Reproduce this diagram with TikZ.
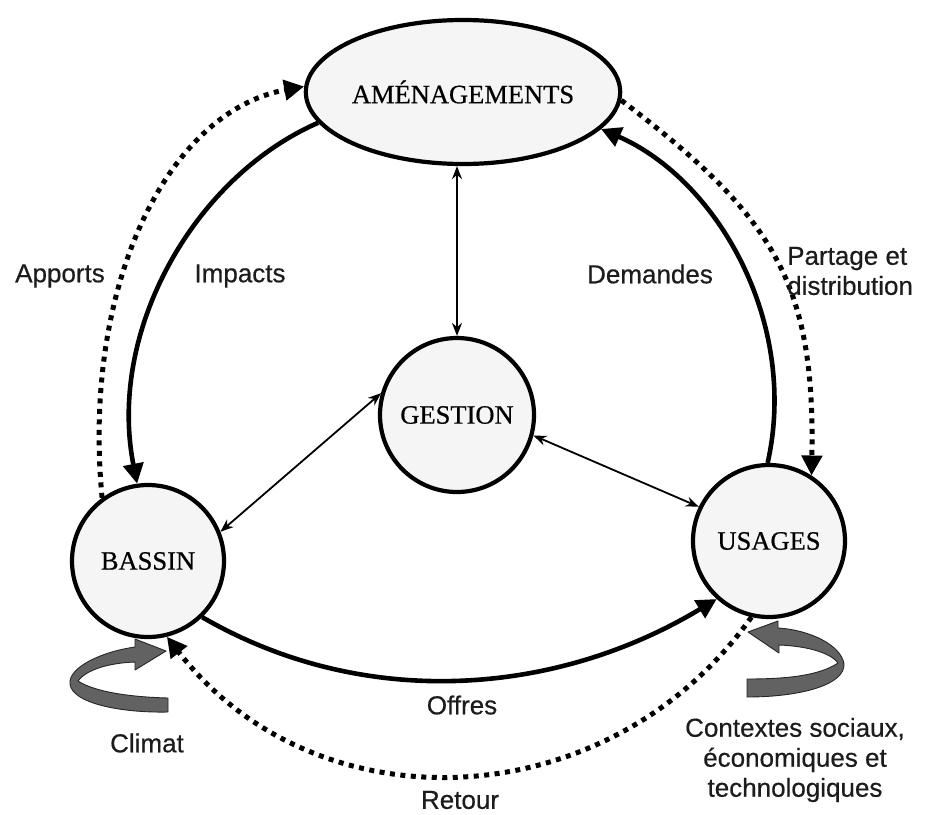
\documentclass[tikz,border=0pt]{standalone}
\usepackage{fontspec}
\setmainfont{Liberation Serif}[FakeBold=0.6]
\newfontfamily\labelfont{Liberation Sans}[FakeBold=0.5]
\usetikzlibrary{arrows.meta,shapes.geometric}
\definecolor{nodefill}{HTML}{F5F5F5}
\definecolor{ribbon}{HTML}{626262}
\definecolor{labelgray}{HTML}{1C1C1C}
\begin{document}
\begin{tikzpicture}[x=1pt,y=-1pt,
  mainnode/.style={draw=black, line width=4.2pt, fill=nodefill, inner sep=0pt,
    font=\fontsize{26.5}{30}\selectfont},
  roundnode/.style={mainnode, circle, minimum size=152pt},
  thickarc/.style={line width=4.6pt, -{Triangle[length=20pt,width=20pt]}},
  dotarc/.style={line width=5pt, dash pattern=on 5pt off 5.5pt, -{Triangle[length=20pt,width=20pt]}},
  thinarrow/.style={line width=1.8pt, {Stealth[length=13pt,width=10pt]}-{Stealth[length=13pt,width=10pt]}},
  lbl/.style={font=\labelfont\fontsize{26}{30}\selectfont, text=labelgray, inner sep=0pt},
  ribbonstyle/.style={fill=ribbon, draw=black!85, line width=0.9pt, line join=round}
]
\useasboundingbox (0,0) rectangle (936,814);

% main nodes
\node[mainnode, ellipse, minimum width=258pt, minimum height=144pt] (AM) at (463,92) {AMÉNAGEMENTS};
\node[roundnode, minimum size=154pt] (GE) at (457,415) {GESTION};
\node[roundnode] (BA) at (148,561) {BASSIN};
\node[roundnode] (US) at (769,541) {USAGES};

% thin double arrows
\draw[thinarrow] (GE.north) -- (GE.north |- AM.south);
\draw[thinarrow] (GE.164) -- (BA.22);
\draw[thinarrow] (GE.-15) -- (US.154);

% thick solid arcs
\draw[thickarc] (AM.192) .. controls (194,177) and (107,331) .. (BA.98);
\draw[thickarc] (US.91) .. controls (799,323) and (718,180) .. (AM.-15);
\draw[thickarc] (BA.-46) .. controls (364,711) and (556,696) .. (US.228);

% dotted arcs
\draw[dotarc] (BA.126) .. controls (82,290) and (165,112) .. (AM.178);
\draw[dotarc] (AM.-3) .. controls (775,217) and (815,283) .. (US.57);
\draw[dotarc] (US.257) .. controls (609,818) and (317,831) .. (BA.284);

% ribbons
\path[ribbonstyle] (168,698) -- (168,712)
  .. controls (120,713) and (72,703) .. (70,684)
  .. controls (68,668) and (100,652) .. (135,647)
  -- (135,639) -- (166,651) -- (135,670) -- (135,662)
  .. controls (108,663) and (86,670) .. (78,681)
  .. controls (95,692) and (130,697) .. (168,698) -- cycle;
\path[ribbonstyle] (747,679) -- (747,697)
  .. controls (800,697) and (845,685) .. (844,664)
  .. controls (841,645) and (810,630) .. (778,628)
  -- (778,621) -- (748,632) -- (779,653) -- (779,645)
  .. controls (805,646) and (830,652) .. (838,663)
  .. controls (820,675) and (790,679) .. (747,679) -- cycle;

% labels
\node[lbl] (apports) at (60,276) {Apports};
\node[lbl] (impacts) at (240,276) {Impacts};
\node[lbl] (demandes) at (650,274) {Demandes};
\node[lbl, align=left, anchor=west] (partage) at (787,271) {Partage et\\distribution};
\node[lbl] (offres) at (462,705) {Offres};
\node[lbl] (retour) at (460,800) {Retour};
\node[lbl] (climat) at (147,743) {Climat};
\node[lbl, align=center] (contextes) at (795,760) {Contextes sociaux,\\économiques et\\technologiques};
\end{tikzpicture}
\end{document}
